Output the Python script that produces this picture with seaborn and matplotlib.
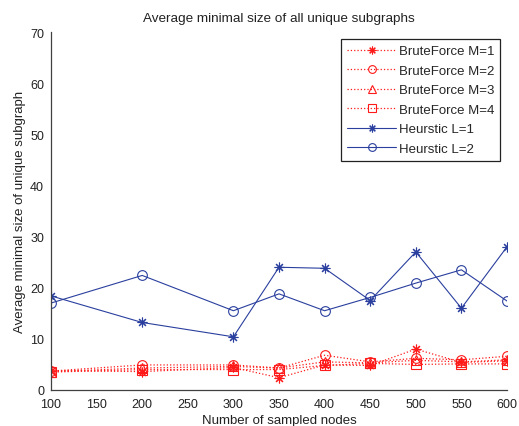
import numpy as np
import pandas as pd
import seaborn as sns
import matplotlib
matplotlib.use("Agg")
import matplotlib.pyplot as plt

# sampled node counts
nodes = [100, 200, 300, 350, 400, 450, 500, 550, 600]

# brute force results for M = 1..4
bf_m1 = [3.8, 3.6, 4.4, 2.4, 4.9, 4.8, 8.0, 5.4, 5.7]
bf_m2 = [3.7, 4.9, 4.9, 4.3, 6.8, 5.5, 6.2, 5.9, 6.6]
bf_m3 = [3.6, 4.3, 4.6, 4.3, 5.5, 5.3, 5.8, 5.5, 5.9]
bf_m4 = [3.5, 4.0, 4.0, 4.0, 4.8, 5.2, 5.0, 5.1, 5.1]

# heuristic results for L = 1, 2
heur_l1 = [18.4, 13.2, 10.4, 24.0, 23.8, 17.5, 27.0, 16.0, 28.0]
heur_l2 = [17.0, 22.4, 15.5, 18.8, 15.5, 18.1, 20.9, 23.5, 17.4]

labels = ["BruteForce M=1", "BruteForce M=2", "BruteForce M=3", "BruteForce M=4",
          "Heurstic L=1", "Heurstic L=2"]
series = [bf_m1, bf_m2, bf_m3, bf_m4, heur_l1, heur_l2]
asterisk = (8, 2, 0)
markers = [asterisk, "o", "^", "s", asterisk, "o"]

sns.set_style("white")
plt.rcParams["font.family"] = ["Liberation Sans", "DejaVu Sans"]
plt.rcParams["font.size"] = 9

fig = plt.figure(figsize=(5.19, 4.27), dpi=100)
ax = fig.add_axes([51 / 519, 1 - 391 / 427, 456 / 519, 358 / 427])

red = "#ff1a1a"
blue = "#2a3f9e"
for lab, vals, mk in zip(labels, series, markers):
    df = pd.DataFrame({"nodes": nodes, "size": vals})
    if lab.startswith("Brute"):
        sns.lineplot(data=df, x="nodes", y="size", ax=ax, color=red, linestyle=":",
                     linewidth=0.9, marker=mk, markersize=7, markerfacecolor="none",
                     markeredgecolor=red, markeredgewidth=0.8, label=lab)
    else:
        sns.lineplot(data=df, x="nodes", y="size", ax=ax, color=blue, linestyle="-",
                     linewidth=0.8, marker=mk, markersize=7, markerfacecolor="none",
                     markeredgecolor=blue, markeredgewidth=0.8, label=lab)

ax.set_xlim(100, 600)
ax.set_ylim(0, 70)
ax.set_xticks(np.arange(100, 601, 50))
ax.set_yticks(np.arange(0, 71, 10))
ax.tick_params(direction="in", length=4, width=0.8, labelsize=9,
               colors="#404040", labelcolor="#222222")
ax.tick_params(axis="x", pad=6)
ax.tick_params(axis="y", pad=5)
sns.despine(ax=ax)
for side in ["left", "bottom"]:
    ax.spines[side].set_color("#404040")
    ax.spines[side].set_linewidth(0.9)

ax.set_title("Average minimal size of all unique subgraphs", fontsize=9.7, pad=8,
             color="#222222")
ax.set_xlabel("Number of sampled nodes", fontsize=9.5, labelpad=3, color="#222222")
ax.set_ylabel("Average minimal size of unique subgraph", fontsize=9.5, labelpad=3,
              color="#222222")

leg = ax.legend(loc="upper right", bbox_to_anchor=(500 / 519, 1 - 40 / 427),
                bbox_transform=fig.transFigure, fontsize=9.5, frameon=True,
                fancybox=False, edgecolor="#222222", framealpha=1, borderpad=0.45,
                handlelength=3.7, handletextpad=0.2, labelspacing=0.55,
                borderaxespad=0, markerscale=0.8)
leg.get_frame().set_linewidth(0.9)

fig.savefig("out.png", dpi=100)
